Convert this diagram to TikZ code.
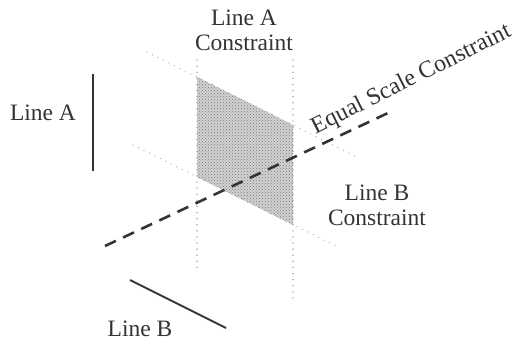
\documentclass[tikz,border=0pt]{standalone}
\usepackage{fontspec}
\setmainfont{Liberation Serif}
\usetikzlibrary{patterns}
\definecolor{ink}{HTML}{333333}
\begin{document}
\begin{tikzpicture}[x=1pt,y=-1pt,
  lbl/.style={text=ink,font=\fontsize{23.5}{25}\selectfont,inner sep=0pt,align=center},
  dotline/.style={gray!65,line width=1.3pt,line cap=round,dash pattern=on 0.1pt off 6pt},
  solidline/.style={ink,line width=2pt},
  scaleline/.style={ink,line width=2.6pt,dash pattern=on 12pt off 8pt}]
\useasboundingbox (0,0) rectangle (518,347);
% shaded feasible region
\coordinate (s1) at (197,77);
\coordinate (s2) at (293,125);
\coordinate (s3) at (293,225);
\coordinate (s4) at (197,177);
\fill[gray!35] (s1) -- (s2) -- (s3) -- (s4) -- cycle;
\fill[pattern=crosshatch dots,pattern color=gray!95!black] (s1) -- (s2) -- (s3) -- (s4) -- cycle;
% Line A constraint (vertical dotted)
\coordinate (va1) at (197,60);
\coordinate (va2) at (197,270);
\coordinate (vb1) at (293,60);
\coordinate (vb2) at (293,303);
\draw[dotline] (va1) -- (va2);
\draw[dotline] (vb1) -- (vb2);
% Line B constraint (diagonal dotted)
\coordinate (da1) at (147,52);
\coordinate (da2) at (355,156);
\coordinate (db1) at (133,145);
\coordinate (db2) at (340,248);
\draw[dotline] (da1) -- (da2);
\draw[dotline] (db1) -- (db2);
% equal scale constraint
\coordinate (e1) at (105,246);
\coordinate (e2) at (388,113);
\draw[scaleline] (e1) -- (e2);
% Line A and Line B
\coordinate (la1) at (93,74);
\coordinate (la2) at (93,171);
\draw[solidline] (la1) -- (la2);
\coordinate (lb1) at (130,280);
\coordinate (lb2) at (226,328);
\draw[solidline] (lb1) -- (lb2);
% labels
\node[lbl] (tA) at (43,113) {Line A};
\node[lbl] (tB) at (140,329) {Line B};
\node[lbl] (tAc) at (244,30) {Line A\\Constraint};
\node[lbl] (tBc) at (377,205) {Line B\\Constraint};
\node[lbl,font=\fontsize{24}{26}\selectfont,anchor=base,rotate=26.5] (tE) at (414,85) {Equal Scale Constraint};
\end{tikzpicture}
\end{document}
